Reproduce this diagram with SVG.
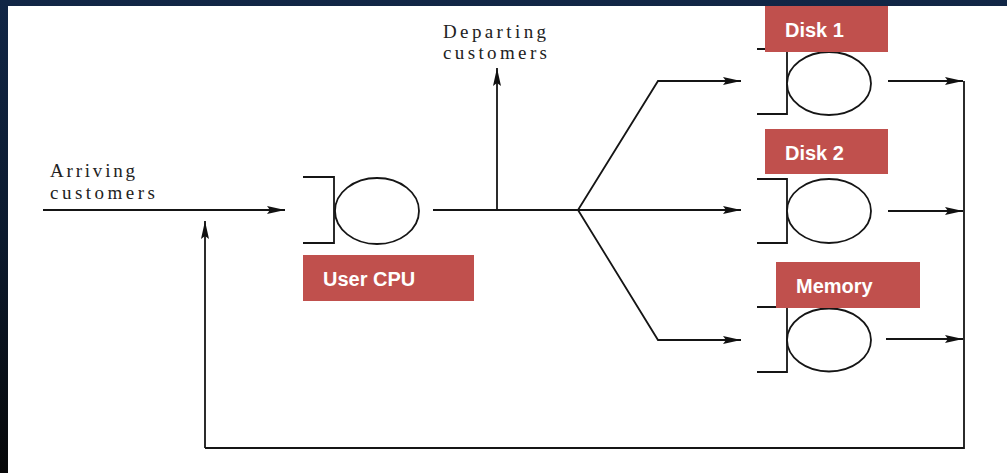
<svg xmlns="http://www.w3.org/2000/svg" width="1007" height="473" viewBox="0 0 1007 473">
  <defs>
    <linearGradient id="bg" x1="0" y1="0" x2="0" y2="1">
      <stop offset="0" stop-color="#112646"/>
      <stop offset="0.5" stop-color="#0c1a2e"/>
      <stop offset="1" stop-color="#070809"/>
    </linearGradient>
    <marker id="arr" markerUnits="userSpaceOnUse" markerWidth="18" markerHeight="8" refX="18" refY="4" orient="auto">
      <path d="M0,0 L18,4 L0,8 L3,4 z" fill="#111"/>
    </marker>
    <style>
      .ln { fill: none; stroke: #151515; stroke-width: 1.8; }
      .srv { fill: #fff; stroke: #151515; stroke-width: 1.8; }
      .tag { fill: #c0504d; }
      .tagt { fill: #fff; font-family: "Liberation Sans", Arial, sans-serif; font-weight: bold; font-size: 20px; }
      .ser { fill: #222; font-family: "Liberation Serif", "Times New Roman", serif; font-size: 19px; }
    </style>
  </defs>
  <rect x="0" y="0" width="1007" height="473" fill="url(#bg)"/>
  <rect x="8" y="6" width="999" height="467" fill="#fff"/>

  <g id="connectors">
    <line class="ln" x1="43" y1="210" x2="285" y2="210" marker-end="url(#arr)"/>
    <line class="ln" x1="205" y1="448" x2="205" y2="221" marker-end="url(#arr)"/>
    <polyline class="ln" points="964,81 964,448 205,448"/>
    <line class="ln" x1="433" y1="210" x2="578" y2="210"/>
    <line class="ln" x1="497" y1="210" x2="497" y2="68" marker-end="url(#arr)"/>
    <polyline class="ln" points="578,210 658,81 741,81" marker-end="url(#arr)"/>
    <line class="ln" x1="578" y1="210" x2="741" y2="210" marker-end="url(#arr)"/>
    <polyline class="ln" points="578,210 658,340 741,340" marker-end="url(#arr)"/>
    <line class="ln" x1="888" y1="81" x2="963" y2="81" marker-end="url(#arr)"/>
    <line class="ln" x1="888" y1="211" x2="963" y2="211" marker-end="url(#arr)"/>
    <line class="ln" x1="886" y1="339" x2="963" y2="339" marker-end="url(#arr)"/>
  </g>

  <g id="arriving">
    <text class="ser" x="50" y="177" textLength="85" lengthAdjust="spacing">Arriving</text>
    <text class="ser" x="50" y="199" textLength="105" lengthAdjust="spacing">customers</text>
  </g>

  <g id="departing">
    <text class="ser" x="443" y="38" textLength="103" lengthAdjust="spacing">Departing</text>
    <text class="ser" x="443" y="59" textLength="104" lengthAdjust="spacing">customers</text>
  </g>

  <g id="user-cpu">
    <polyline class="ln" points="303,177 334,177 334,243 303,243"/>
    <ellipse class="srv" cx="377" cy="211" rx="42" ry="33"/>
    <rect class="tag" x="303" y="255" width="171" height="46"/>
    <text class="tagt" x="323" y="286">User CPU</text>
  </g>

  <g id="disk1">
    <polyline class="ln" points="757,49 787,49 787,114 757,114"/>
    <ellipse class="srv" cx="829" cy="83.5" rx="42" ry="31.5"/>
    <rect class="tag" x="765" y="6" width="123" height="46"/>
    <text class="tagt" x="785" y="37">Disk 1</text>
  </g>

  <g id="disk2">
    <polyline class="ln" points="757,179 787,179 787,243 757,243"/>
    <ellipse class="srv" cx="829" cy="211" rx="42" ry="32"/>
    <rect class="tag" x="765" y="129" width="123" height="45"/>
    <text class="tagt" x="785" y="160">Disk 2</text>
  </g>

  <g id="memory">
    <polyline class="ln" points="757,307 787,307 787,372 757,372"/>
    <ellipse class="srv" cx="829" cy="340" rx="42" ry="31.5"/>
    <rect class="tag" x="776" y="262" width="144" height="46"/>
    <text class="tagt" x="796" y="293">Memory</text>
  </g>
</svg>
